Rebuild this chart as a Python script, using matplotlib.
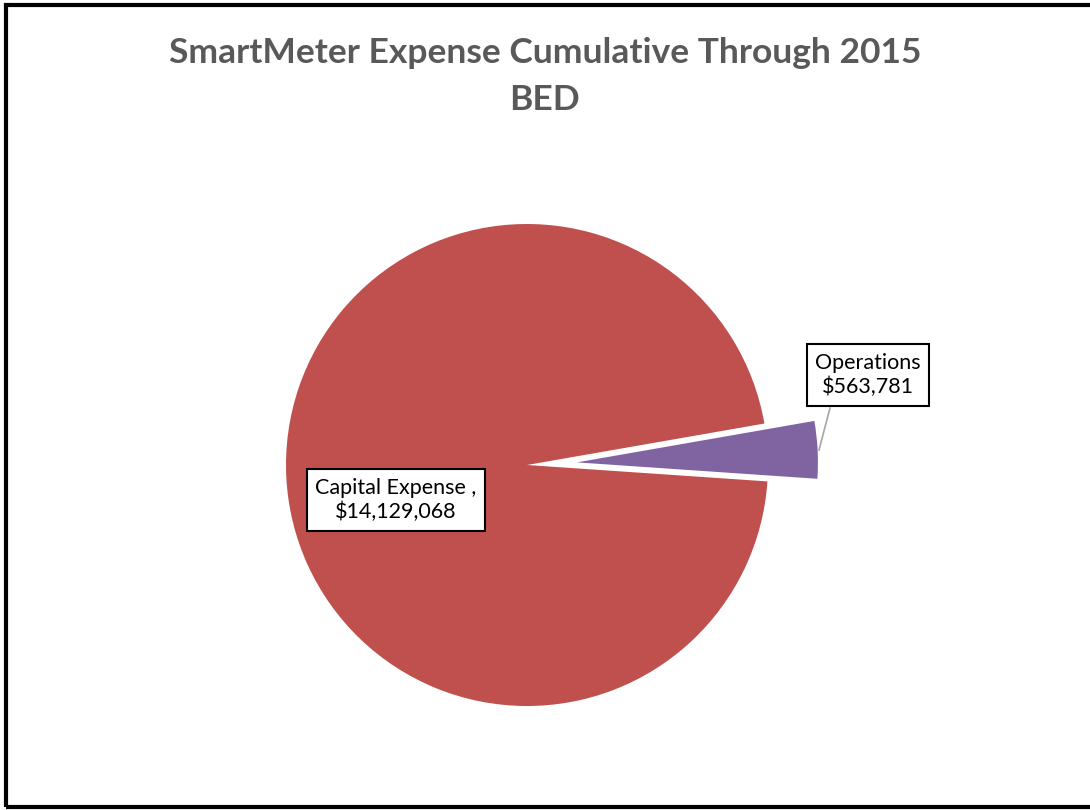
import matplotlib.pyplot as plt
from matplotlib.patches import Rectangle

labels = ["Operations", "Capital Expense"]
values = [563781, 14129068]
label_text = ["Operations\n$563,781", "Capital Expense ,\n$14,129,068"]
colors = ["#8064A2", "#C0504D"]

fig = plt.figure(figsize=(10.9, 8.1), dpi=100)
ax = fig.add_axes([0, 0, 1, 1])

# pie in pixel-like coordinates (y up); explode is in data units here
share = values[0] / sum(values) * 360
ax.pie(values, colors=colors, startangle=3 - share / 2, counterclock=True,
       explode=[50, 0], center=(527, 345), radius=241,
       wedgeprops=dict(linewidth=0))
ax.set_xlim(0, 1090)
ax.set_ylim(0, 810)
ax.set_aspect("equal")
ax.axis("off")

# chart border
ax.add_patch(Rectangle((5.5, 3), 1100, 802, fill=False, edgecolor="black",
                       linewidth=3, clip_on=False))

fig.text(0.5, 1 - 53 / 810, "SmartMeter Expense Cumulative Through 2015",
         ha="center", va="center", fontsize=25.5, fontweight="bold",
         color="#595959", family="Lato")
fig.text(0.5, 1 - 100 / 810, "BED", ha="center", va="center", fontsize=25.5,
         fontweight="bold", color="#595959", family="Lato")

box = dict(boxstyle="square,pad=0.4", facecolor="white", edgecolor="black",
           linewidth=1.5)
ax.plot([830, 819], [810 - 408, 810 - 450], color="#A6A6A6", linewidth=1.2)
ax.text(868, 810 - 375, label_text[0], ha="center", va="center",
        fontsize=15.5, family="Lato", bbox=box, linespacing=1.25)
ax.text(396, 810 - 500, label_text[1], ha="center", va="center",
        fontsize=15.5, family="Lato", bbox=box, linespacing=1.25)

fig.savefig("out.png", dpi=100)
